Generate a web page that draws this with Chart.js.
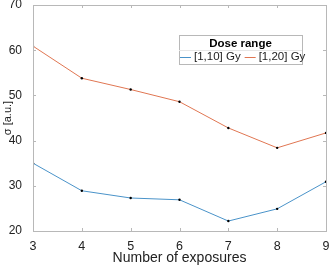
<!DOCTYPE html>
<html>
<head>
<meta charset="utf-8">
<script src="https://cdn.jsdelivr.net/npm/chart.js@4"></script>
<style>
  html, body { margin: 0; padding: 0; background: #fff; }
  #wrap { width: 330px; height: 267px; }
</style>
</head>
<body>
<div id="wrap"><canvas id="myChart"></canvas></div>
<script>
var exposures = [3, 4, 5, 6, 7, 8, 9];
var sigma_10 = [35.0, 28.9, 27.3, 26.9, 22.2, 24.9, 30.9];
var sigma_20 = [60.9, 53.8, 51.3, 48.6, 42.8, 38.4, 41.7];
var series_labels = ['[1,10] Gy', '[1,20] Gy'];
var legend_title = 'Dose range';

var FONT = '"Liberation Sans", Arial, sans-serif';
var AXIS_GRAY = '#b8b8b8';

function toPoints(xs, ys){
    var pts = [];
    for (let i = 0; i < xs.length; i++) {
        pts.push({x: xs[i], y: ys[i]});
    }
    return pts;
}

// matlab style box + inward ticks
var boxPlugin = {
    id: 'box',
    afterDraw: function(chart){
        var ctx = chart.ctx;
        var a = chart.chartArea;
        var xs = chart.scales.x, ys = chart.scales.y;
        ctx.save();
        ctx.strokeStyle = AXIS_GRAY;
        ctx.lineWidth = 1;
        ctx.strokeRect(Math.round(a.left) + 0.5, Math.round(a.top) + 0.5,
            Math.round(a.right - a.left), Math.round(a.bottom - a.top));
        ctx.beginPath();
        xs.ticks.forEach(function(t){
            var px = Math.round(xs.getPixelForValue(t.value)) + 0.5;
            ctx.moveTo(px, a.bottom); ctx.lineTo(px, a.bottom - 3);
            ctx.moveTo(px, a.top); ctx.lineTo(px, a.top + 3);
        });
        ys.ticks.forEach(function(t){
            var py = Math.round(ys.getPixelForValue(t.value)) + 0.5;
            ctx.moveTo(a.left, py); ctx.lineTo(a.left + 3, py);
            ctx.moveTo(a.right, py); ctx.lineTo(a.right - 3, py);
        });
        ctx.stroke();
        ctx.restore();
    }
};

// legend box with title inside the plot
var legendPlugin = {
    id: 'boxLegend',
    afterDraw: function(chart){
        var ctx = chart.ctx;
        var x0 = 179, y0 = 35, w = 123, h = 29;
        ctx.save();
        ctx.fillStyle = '#fff';
        ctx.fillRect(x0, y0, w, h);
        ctx.strokeStyle = AXIS_GRAY;
        ctx.lineWidth = 1;
        ctx.strokeRect(x0 + 0.5, y0 + 0.5, w, h);
        ctx.strokeStyle = '#e6e6e6';
        ctx.beginPath();
        ctx.moveTo(x0, y0 + 15.5); ctx.lineTo(x0 + w, y0 + 15.5);
        ctx.stroke();
        ctx.fillStyle = '#000';
        ctx.font = 'bold 11.5px ' + FONT;
        ctx.textAlign = 'center';
        ctx.textBaseline = 'middle';
        ctx.fillText(legend_title, x0 + w / 2, y0 + 9);
        ctx.font = '11.5px ' + FONT;
        ctx.textAlign = 'left';
        var xpos = x0 + 1;
        chart.data.datasets.forEach(function(ds){
            ctx.strokeStyle = ds.borderColor;
            ctx.beginPath();
            ctx.moveTo(xpos, y0 + 22.5); ctx.lineTo(xpos + 11, y0 + 22.5);
            ctx.stroke();
            ctx.fillStyle = '#222';
            ctx.fillText(ds.label, xpos + 14, y0 + 22);
            xpos += 14 + ctx.measureText(ds.label).width + 4;
        });
        ctx.restore();
    }
};

var ctx = document.getElementById('myChart').getContext('2d');
var chart = new Chart(ctx, {
    type: 'line',
    data: {
        datasets: [{
            label: series_labels[0],
            data: toPoints(exposures, sigma_10),
            borderColor: '#4a93c9',
            borderWidth: 1,
            pointRadius: 1.2,
            pointBackgroundColor: '#000',
            pointBorderColor: '#000',
            pointBorderWidth: 0
        },{
            label: series_labels[1],
            data: toPoints(exposures, sigma_20),
            borderColor: '#e07652',
            borderWidth: 1,
            pointRadius: 1.2,
            pointBackgroundColor: '#000',
            pointBorderColor: '#000',
            pointBorderWidth: 0
        }]
    },
    options: {
        responsive: true,
        maintainAspectRatio: false,
        animation: false,
        layout: { padding: { top: 5, right: 3, left: 1, bottom: 0 } },
        plugins: { legend: { display: false }, tooltip: { enabled: false } },
        scales: {
            x: {
                type: 'linear',
                min: 3, max: 9,
                grid: { display: false },
                border: { display: false },
                ticks: { stepSize: 1, color: '#222', padding: 0, font: { family: FONT, size: 12.5 } },
                title: { display: true, text: 'Number of exposures', color: '#222', padding: 0, font: { family: FONT, size: 14 } },
                afterFit: function(s){ s.height = 36; s.paddingLeft = 0; s.paddingRight = 0; }
            },
            y: {
                min: 20, max: 70,
                grid: { display: false },
                border: { display: false },
                ticks: { stepSize: 10, color: '#222', padding: 3, font: { family: FONT, size: 12 } },
                title: { display: true, text: 'σ [a.u.]', color: '#222', padding: 0, font: { family: FONT, size: 11 } },
                afterFit: function(s){ s.width = 32; s.paddingTop = 0; s.paddingBottom = 0; }
            }
        }
    },
    plugins: [boxPlugin, legendPlugin]
});
</script>
</body>
</html>
